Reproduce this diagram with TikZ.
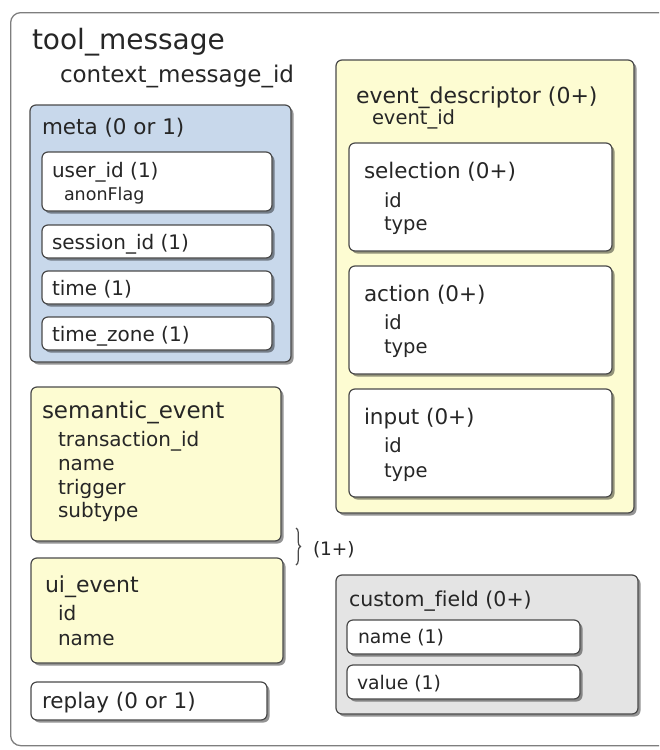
\documentclass[tikz,border=0pt]{standalone}
\usepackage{fontspec}
\setmainfont{DejaVu Sans}[Ligatures=CommonOff]
\usetikzlibrary{shadows,decorations.pathreplacing}
\definecolor{txtc}{HTML}{262626}
\definecolor{edgec}{HTML}{4A4A4A}
\definecolor{outerc}{HTML}{7E7E7E}
\definecolor{bluef}{HTML}{C8D8EB}
\definecolor{yellowf}{HTML}{FDFCD2}
\definecolor{grayf}{HTML}{E4E4E4}
\newcommand\fsz[1]{\fontsize{#1}{#1}\selectfont}
\tikzset{
  boxbase/.style={rectangle, draw=edgec, line width=1.2pt, rounded corners=6pt,
    anchor=north west, inner sep=0pt, outer sep=0pt,
    drop shadow={shadow xshift=2.5pt, shadow yshift=-2.5pt, opacity=0.42, fill=black}},
  bluebox/.style={boxbase, fill=bluef},
  yellowbox/.style={boxbase, fill=yellowf},
  graybox/.style={boxbase, fill=grayf},
  whitebox/.style={boxbase, fill=white},
  txt/.style={anchor=base west, inner sep=0pt, outer sep=0pt, text=txtc},
}
\begin{document}
\begin{tikzpicture}[x=1pt,y=-1pt]
\useasboundingbox (0,0) rectangle (659,750);
\clip (0,0) rectangle (659,750);
% outer container
\node[rectangle, draw=outerc, line width=1.3pt, rounded corners=10pt, anchor=north west,
  minimum width=660pt, minimum height=733pt, inner sep=0pt, fill=white] (outer) at (10,12) {};
\node[txt, font=\fsz{28}] (ttool) at (32,49) {tool\_message};
\node[txt, font=\fsz{23}] (tctx) at (60,82) {context\_message\_id};

% meta
\node[bluebox, minimum width=261pt, minimum height=257pt] (meta) at (30,105) {};
\node[txt, font=\fsz{21.5}] (tmeta) at (42,134) {meta (0 or 1)};
\node[whitebox, minimum width=230pt, minimum height=59pt] (userid) at (42,152) {};
\node[txt, font=\fsz{20}] (tuserid) at (52,177) {user\_id (1)};
\node[txt, font=\fsz{17.5}] (tanon) at (64,200) {anonFlag};
\node[whitebox, minimum width=230pt, minimum height=33pt] (session) at (42,225) {};
\node[txt, font=\fsz{20}] (tsession) at (52,249) {session\_id (1)};
\node[whitebox, minimum width=230pt, minimum height=33pt] (time) at (42,271) {};
\node[txt, font=\fsz{20}] (ttime) at (52,295) {time (1)};
\node[whitebox, minimum width=230pt, minimum height=33pt] (tzone) at (42,317) {};
\node[txt, font=\fsz{20}] (ttzone) at (52,341) {time\_zone (1)};

% event descriptor
\node[yellowbox, minimum width=298pt, minimum height=453pt] (evd) at (336,60) {};
\node[txt, font=\fsz{22}] (tevd) at (356,103) {event\_descriptor (0+)};
\node[txt, font=\fsz{19.5}] (tevid) at (372,124) {event\_id};
\node[whitebox, minimum width=263pt, minimum height=108pt] (sel) at (349,143) {};
\node[txt, font=\fsz{21.5}] (tsel) at (364,178) {selection (0+)};
\node[txt, font=\fsz{19.5}] (tselid) at (384,207) {id};
\node[txt, font=\fsz{19.5}] (tseltype) at (384,230) {type};
\node[whitebox, minimum width=263pt, minimum height=108pt] (act) at (349,266) {};
\node[txt, font=\fsz{21.5}] (tact) at (364,301) {action (0+)};
\node[txt, font=\fsz{19.5}] (tactid) at (384,329) {id};
\node[txt, font=\fsz{19.5}] (tacttype) at (384,353) {type};
\node[whitebox, minimum width=263pt, minimum height=108pt] (inp) at (349,389) {};
\node[txt, font=\fsz{21.5}] (tinp) at (364,424) {input (0+)};
\node[txt, font=\fsz{19.5}] (tinpid) at (384,452) {id};
\node[txt, font=\fsz{19.5}] (tinptype) at (384,477) {type};

% semantic event
\node[yellowbox, minimum width=250pt, minimum height=154pt] (sem) at (31,387) {};
\node[txt, font=\fsz{23}] (tsem) at (42,418) {semantic\_event};
\node[txt, font=\fsz{20}] (tsem1) at (58,446) {transaction\_id};
\node[txt, font=\fsz{20}] (tsem2) at (58,470) {name};
\node[txt, font=\fsz{20}] (tsem3) at (58,494) {trigger};
\node[txt, font=\fsz{20}] (tsem4) at (58,517) {subtype};

% ui event
\node[yellowbox, minimum width=252pt, minimum height=105pt] (ui) at (31,558) {};
\node[txt, font=\fsz{22}] (tui) at (45,592) {ui\_event};
\node[txt, font=\fsz{20}] (tui1) at (58,620) {id};
\node[txt, font=\fsz{20}] (tui2) at (58,645) {name};

% replay
\node[whitebox, minimum width=236pt, minimum height=38pt] (replay) at (31,682) {};
\node[txt, font=\fsz{21.5}] (treplay) at (42,708) {replay (0 or 1)};

% brace
\coordinate (bracetop) at (296,528);
\coordinate (bracebot) at (296,565);
\draw[edgec, line width=1.2pt, decorate, decoration={brace, amplitude=4.5pt}] (bracetop) -- (bracebot);
\node[txt, font=\fsz{18.5}] (tmult) at (313,555) {(1+)};

% custom field
\node[graybox, minimum width=302pt, minimum height=139pt] (cf) at (336,575) {};
\node[txt, font=\fsz{20.5}] (tcf) at (349,606) {custom\_field (0+)};
\node[whitebox, minimum width=233pt, minimum height=34pt] (cfname) at (347,620) {};
\node[txt, font=\fsz{18.8}] (tcfname) at (358,643) {name (1)};
\node[whitebox, minimum width=233pt, minimum height=34pt] (cfvalue) at (347,665) {};
\node[txt, font=\fsz{18.8}] (tcfvalue) at (357,689) {value (1)};
\end{tikzpicture}
\end{document}
